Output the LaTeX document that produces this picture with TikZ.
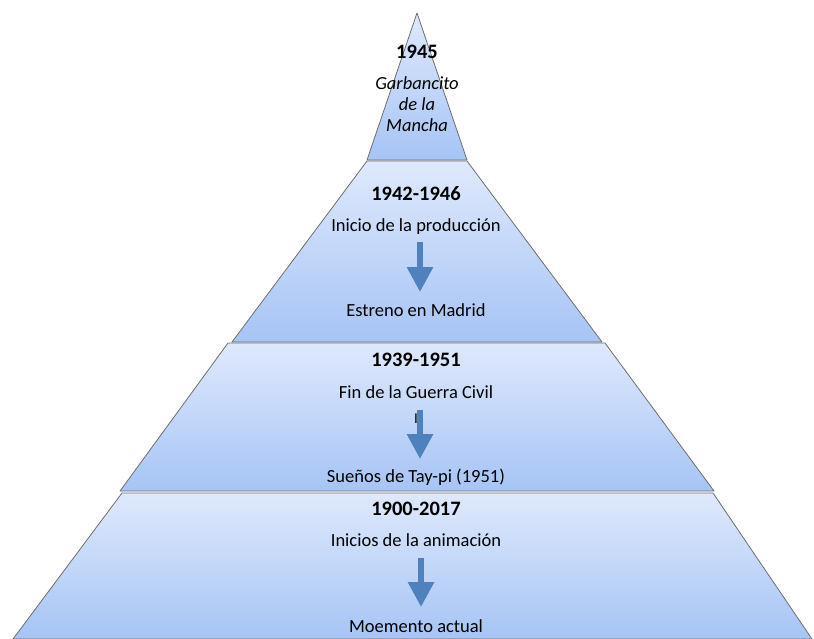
\documentclass[tikz,border=0pt]{standalone}
\usepackage{fontspec}
\setmainfont{Carlito}
\usetikzlibrary{arrows.meta}
\definecolor{lvtop}{RGB}{223,233,252}
\definecolor{lvbot}{RGB}{166,196,245}
\definecolor{lvedge}{RGB}{110,110,110}
\definecolor{arrowblue}{RGB}{79,129,189}
\tikzset{
  level/.style={draw=lvedge, line width=0.8pt, top color=lvtop, bottom color=lvbot, line join=round},
  year/.style={font=\fontsize{20.5}{22}\selectfont\bfseries, inner sep=0pt},
  txt/.style={font=\fontsize{18.5}{21}\selectfont, inner sep=0pt},
  blockarrow/.style={draw=arrowblue, line width=6pt, -{Triangle[width=25pt,length=25pt]}, arrowblue}
}
\begin{document}
\begin{tikzpicture}[x=1pt,y=-1pt]
\useasboundingbox (0,0) rectangle (814,639);
% levels
\path[level] (13,639) -- (122,493) -- (713,493) -- (812,639) -- cycle;
\path[level] (120,491) -- (228,343) -- (605,343) -- (714,491) -- cycle;
\path[level] (232,342) -- (367,161) -- (467,161) -- (602,342) -- cycle;
\path[level] (367,160) -- (417,13) -- (467,160) -- cycle;
% top
\node[year] (y1945) at (417,52) {1945};
\node[txt, align=center, font=\fontsize{18.5}{21}\selectfont\itshape] (garb) at (417,104) {Garbancito\\de la\\Mancha};
% level 2
\node[year] (y1942) at (416,194) {1942-1946};
\node[txt] (inicio) at (416,227) {Inicio de la producción};
\node[txt] (estreno) at (416,310) {Estreno en Madrid};
\coordinate (a2s) at (420,242);
\coordinate (a2e) at (420,292);
\draw[blockarrow] (a2s) -- (a2e);
% level 3
\node[year] (y1939) at (416,360) {1939-1951};
\node[txt] (fin) at (416,392) {Fin de la Guerra Civil};
\node[txt] (suenos) at (416,477) {Sueños de Tay-pi (1951)};
\coordinate (a3s) at (420,410);
\coordinate (a3e) at (420,459);
\draw[blockarrow] (a3s) -- (a3e);
\node[txt, font=\fontsize{15}{16}\selectfont] (stray) at (416,419) {I};
% level 4
\node[year] (y1900) at (416,509) {1900-2017};
\node[txt] (inicios) at (416,540) {Inicios de la animación};
\node[txt] (moemento) at (416,626) {Moemento actual};
\coordinate (a4s) at (421,558);
\coordinate (a4e) at (421,607);
\draw[blockarrow] (a4s) -- (a4e);
\end{tikzpicture}
\end{document}
